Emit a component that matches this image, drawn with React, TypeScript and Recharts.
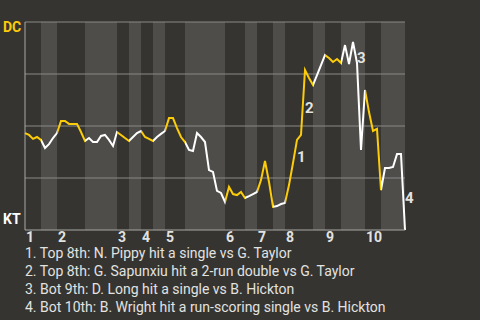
import { Line, LineChart, ReferenceArea, ReferenceDot, ReferenceLine, XAxis, YAxis } from 'recharts'

// inning labels on the x axis
const innings = ['1', '2', '3', '4', '5', '6', '7', '8', '9', '10']

// plate-appearance index where each half-inning ends (top 1, bot 1, top 2, ...)
const halfInningEnds = [4, 8, 15, 23, 26, 29, 32, 35, 40, 50, 55, 58, 62, 65, 72, 75, 79, 85, 89, 95]

// DC win probability (%) after each plate appearance
const dcWinPct = [
  46.6, 45.7, 43.8, 44.7, 43.3, 39.4, 41.3, 44.2, 46.6, 52.4,
  52.4, 51.0, 51.0, 51.0, 47.1, 42.8, 44.2, 42.3, 42.3, 45.2,
  45.7, 43.3, 40.4, 47.1, 45.7, 44.2, 42.8, 44.7, 46.6, 47.6,
  44.7, 43.8, 42.8, 44.7, 46.2, 47.6, 53.8, 53.8, 49.0, 44.7,
  42.3, 38.5, 38.0, 46.6, 44.7, 42.3, 28.8, 27.9, 18.8, 17.8,
  13.5, 20.7, 17.3, 16.8, 18.3, 15.4, 16.3, 17.3, 18.3, 24.0,
  33.2, 23.1, 11.1, 11.5, 12.5, 13.0, 21.6, 32.2, 43.3, 45.7,
  76.9, 73.1, 69.7, 74.5, 79.3, 84.1, 82.7, 80.8, 82.2, 80.3,
  88.9, 79.8, 90.4, 80.3, 38.5, 67.3, 56.7, 47.6, 48.6, 19.2,
  29.8, 29.8, 30.3, 36.5, 36.5, 0,
]

const gridTicks = [25, 50, 75, 100]

// key plays: plate appearance index and description
const eventIdx = [68, 70, 83, 95]
const eventText = [
  'Top 8th: N. Pippy hit a single vs G. Taylor',
  'Top 8th: G. Sapunxiu hit a 2-run double vs G. Taylor',
  'Bot 9th: D. Long hit a single vs B. Hickton',
  'Bot 10th: B. Wright hit a run-scoring single vs B. Hickton',
]

const BG = '#353430'
const BAND = '#4e4d4a'
const GRID = '#8a8986'
const AXIS = '#a9a8a5'
const DC_COLOR = '#fccc0a'
const KT_COLOR = '#ffffff'
const TEXT = '#e2e2e0'
const FONT = 'Roboto, "Noto Sans", sans-serif'

const lastIdx = dcWinPct.length - 1
const rows = dcWinPct.map((v, i) => ({ pa: i, dc: v }))
const halfStarts = [0, ...halfInningEnds.slice(0, -1)]
const halves = halfStarts.map((s, k) => ({ x1: s, x2: halfInningEnds[k], top: k % 2 === 0 }))
const inningStarts = halves.filter((h) => h.top).map((h) => h.x1)

function InningTick(props: any) {
  const { x, y, payload } = props
  const label = innings[inningStarts.indexOf(payload.value)]
  return (
    <text x={x + 1} y={y} dy="0.71em" fill={TEXT} fontSize={14} fontWeight={700} fontFamily={FONT}>
      {label}
    </text>
  )
}

export default function App() {
  return (
    <div
      style={{
        position: 'absolute',
        left: 0,
        top: 0,
        width: 480,
        height: 320,
        background: BG,
        fontFamily: FONT,
        overflow: 'hidden',
      }}
    >
      <LineChart width={480} height={250} data={rows} margin={{ top: 22, right: 75, bottom: 0, left: 25 }}>
        <defs>
          <linearGradient id="halfInning" x1="0" y1="0" x2="1" y2="0">
            {halves.flatMap((h, k) => [
              <stop key={`a${k}`} offset={h.x1 / lastIdx} stopColor={h.top ? DC_COLOR : KT_COLOR} />,
              <stop key={`b${k}`} offset={h.x2 / lastIdx} stopColor={h.top ? DC_COLOR : KT_COLOR} />,
            ])}
          </linearGradient>
        </defs>
        <XAxis
          type="number"
          dataKey="pa"
          domain={[0, lastIdx]}
          ticks={inningStarts}
          interval={0}
          tickSize={0}
          tickMargin={2}
          height={20}
          axisLine={{ stroke: AXIS }}
          tick={(p: any) => <InningTick {...p} />}
        />
        <YAxis type="number" domain={[0, 100]} hide />
        {halves
          .filter((h) => !h.top)
          .map((h) => (
            <ReferenceArea key={h.x1} x1={h.x1} x2={h.x2} fill={BAND} fillOpacity={1} stroke="none" />
          ))}
        {gridTicks.map((t) => (
          <ReferenceLine key={t} y={t} stroke={GRID} strokeWidth={1} />
        ))}
        <ReferenceLine x={0} stroke={AXIS} strokeWidth={1} />
        <Line
          type="linear"
          dataKey="dc"
          stroke="url(#halfInning)"
          strokeWidth={2}
          dot={false}
          isAnimationActive={false}
        />
        {eventIdx.map((idx, n) => (
          <ReferenceDot
            key={idx}
            x={idx - 0.5}
            y={(dcWinPct[idx - 1] + dcWinPct[idx]) / 2}
            r={0}
            ifOverflow="visible"
            shape={(p: any) => (
              <text x={p.cx + 2} y={p.cy + 11} fill={TEXT} fontSize={15} fontWeight={700} fontFamily={FONT}>
                {n + 1}
              </text>
            )}
          />
        ))}
      </LineChart>
      <div style={{ position: 'absolute', left: 3, top: 19, color: DC_COLOR, fontSize: 14, fontWeight: 700 }}>DC</div>
      <div style={{ position: 'absolute', left: 3, top: 211, color: KT_COLOR, fontSize: 14, fontWeight: 700 }}>KT</div>
      <div
        style={{
          position: 'absolute',
          left: 25,
          top: 244,
          color: TEXT,
          fontSize: 14,
          lineHeight: '18px',
          whiteSpace: 'nowrap',
        }}
      >
        {eventText.map((t, n) => (
          <div key={n}>{`${n + 1}. ${t}`}</div>
        ))}
      </div>
    </div>
  )
}
